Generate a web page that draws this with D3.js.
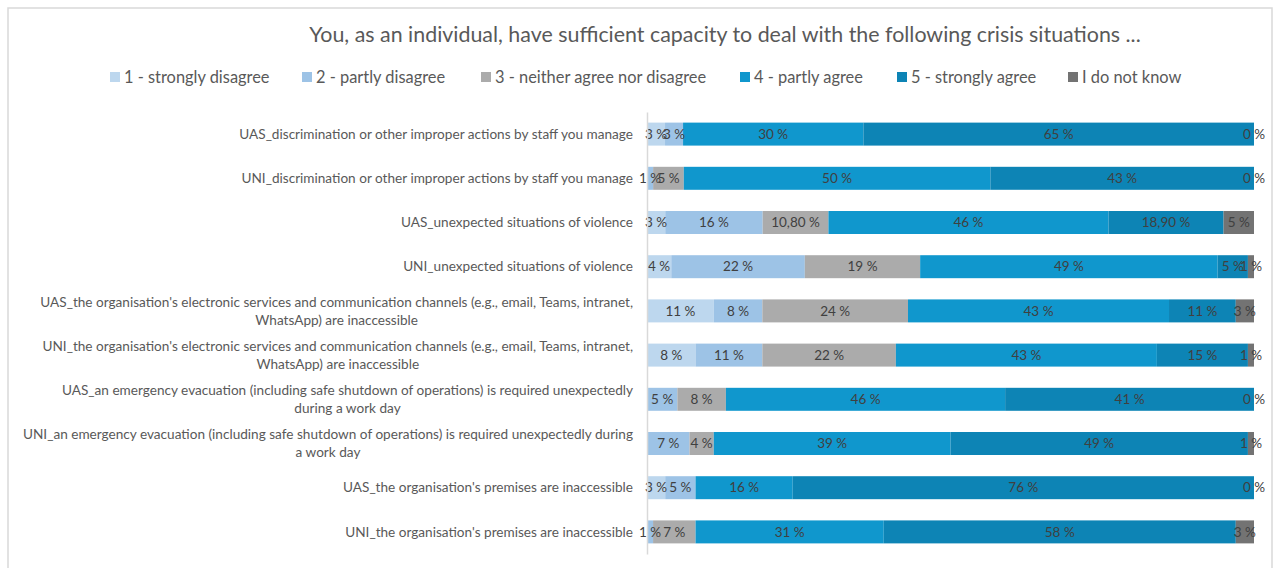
<!DOCTYPE html>
<html>
<head>
<meta charset="utf-8">
<script src="https://cdn.jsdelivr.net/npm/d3@7"></script>
<style>
  html, body { margin: 0; padding: 0; background: #fff; }
  svg { display: block; font-family: "Lato", "Noto Sans", sans-serif; }
</style>
</head>
<body>
<svg id="chart" width="1277" height="568"></svg>
<script>
// Survey items (line breaks mark where the long labels wrap)
const categories = [
  "UAS_discrimination or other improper actions by staff you manage",
  "UNI_discrimination or other improper actions by staff you manage",
  "UAS_unexpected situations of violence",
  "UNI_unexpected situations of violence",
  "UAS_the organisation's electronic services and communication channels (e.g., email, Teams, intranet,\nWhatsApp) are inaccessible",
  "UNI_the organisation's electronic services and communication channels (e.g., email, Teams, intranet,\nWhatsApp) are inaccessible",
  "UAS_an emergency evacuation (including safe shutdown of operations) is required unexpectedly\nduring a work day",
  "UNI_an emergency evacuation (including safe shutdown of operations) is required unexpectedly during\na work day",
  "UAS_the organisation's premises are inaccessible",
  "UNI_the organisation's premises are inaccessible"
];

const seriesNames = [
  "1 - strongly disagree",
  "2 - partly disagree",
  "3 - neither agree nor disagree",
  "4 - partly agree",
  "5 - strongly agree",
  "I do not know"
];

// Percent answers per item (null = no answers in that option, no label)
const stronglyDisagree = [3, null, 3, 4, 11, 8, null, null, 3, null];
const partlyDisagree   = [3, 1, 16, 22, 8, 11, 5, 7, 5, 1];
const neither          = [null, 5, 10.8, 19, 24, 22, 8, 4, null, 7];
const partlyAgree      = [30, 50, 46, 49, 43, 43, 46, 39, 16, 31];
const stronglyAgree    = [65, 43, 18.9, 5, 11, 15, 41, 49, 76, 58];
const doNotKnow        = [0, 0, 5, 1, 3, 1, 0, 1, 0, 3];

const colors = ["#BDD7EE", "#9DC3E6", "#ABABAB", "#1097CD", "#0D84B5", "#737373"];

const title = "You, as an individual, have sufficient capacity to deal with the following crisis situations ...";

const seriesValues = [stronglyDisagree, partlyDisagree, neither, partlyAgree, stronglyAgree, doNotKnow];

const rows = categories.map((c, i) => {
  const r = { category: c };
  seriesNames.forEach((s, k) => { r[s] = seriesValues[k][i]; });
  return r;
});

const svg = d3.select("#chart");

// chart frame
svg.append("rect")
  .attr("x", 8).attr("y", 8)
  .attr("width", 1264).attr("height", 600)
  .attr("fill", "#fff")
  .attr("stroke", "#D9D9D9").attr("stroke-width", 1.5);

// title
svg.append("text")
  .attr("x", 725).attr("y", 42)
  .attr("text-anchor", "middle")
  .attr("font-size", 21.4)
  .attr("fill", "#595959")
  .text(title);

// 100% stacked layout
const stack = d3.stack()
  .keys(seriesNames)
  .value((d, k) => d[k] == null ? 0 : d[k])
  .offset(d3.stackOffsetExpand);
const stacked = stack(rows);

const x = d3.scaleLinear().domain([0, 1]).range([647, 1254]);
const y = d3.scaleBand().domain(categories).range([112, 554])
  .paddingInner(0.48).paddingOuter(0.24);

const fmt = v => (Number.isInteger(v) ? String(v) : v.toFixed(2).replace(".", ",")) + " %";

// bars
const layers = svg.append("g").selectAll("g")
  .data(stacked).join("g")
  .attr("fill", (d, i) => colors[i]);

layers.selectAll("rect")
  .data(d => d.map(s => ({ s, key: d.key })))
  .join("rect")
  .filter(d => d.s.data[d.key] != null)
  .attr("x", d => x(d.s[0]))
  .attr("y", d => y(d.s.data.category))
  .attr("width", d => Math.max(0, x(d.s[1]) - x(d.s[0])))
  .attr("height", y.bandwidth());

// data labels
const labels = svg.append("g")
  .attr("font-size", 13.5)
  .attr("fill", "#404040")
  .attr("text-anchor", "middle");
stacked.forEach(layer => {
  layer.forEach(s => {
    const v = s.data[layer.key];
    if (v == null) return;
    labels.append("text")
      .attr("x", (x(s[0]) + x(s[1])) / 2)
      .attr("y", y(s.data.category) + y.bandwidth() / 2)
      .attr("dy", "0.35em")
      .text(fmt(v));
  });
});

// category axis
const axis = svg.append("g")
  .attr("transform", "translate(647,0)")
  .call(d3.axisLeft(y).tickSize(0).tickPadding(14).tickFormat(""));
axis.select(".domain").attr("stroke", "#D9D9D9").attr("stroke-width", 1.5);

axis.selectAll(".tick").each(function (d) {
  const lines = d.split("\n");
  const t = d3.select(this).select("text")
    .attr("font-size", 13.6)
    .attr("fill", "#595959")
    .attr("font-family", "Lato, 'Noto Sans', sans-serif");
  t.text(null);
  if (lines.length === 1) {
    t.attr("text-anchor", "end").attr("x", -14).attr("dy", "0.35em").text(lines[0]);
  } else {
    const spans = lines.map((l, i) => t.append("tspan")
      .attr("y", (i - (lines.length - 1) / 2) * 18)
      .attr("dy", "0.35em")
      .text(l));
    const w = d3.max(spans, s => s.node().getComputedTextLength());
    t.attr("text-anchor", "middle");
    spans.forEach(s => s.attr("x", -14 - w / 2));
  }
});

// legend
const legendX = [110, 302, 481, 740, 897, 1068];
const legend = svg.append("g").attr("font-size", 16.4).attr("fill", "#595959");
seriesNames.forEach((name, i) => {
  const g = legend.append("g").attr("transform", `translate(${legendX[i]},77)`);
  g.append("rect").attr("x", 0).attr("y", -5).attr("width", 10).attr("height", 10).attr("fill", colors[i]);
  g.append("text").attr("x", 14).attr("dy", "0.35em").text(name);
});
</script>
</body>
</html>
